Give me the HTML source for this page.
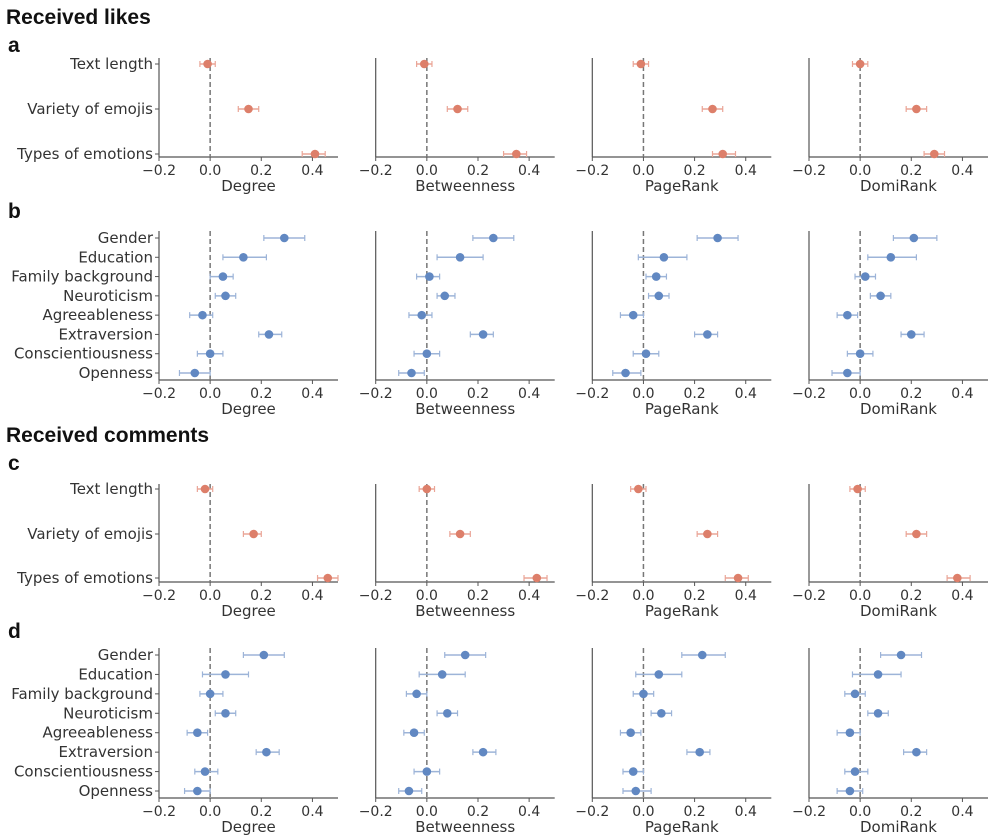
<!DOCTYPE html>
<html><head><meta charset="utf-8"><style>
body{margin:0;background:#fff;}
svg{display:block;font-family:"DejaVu Sans","Liberation Sans",sans-serif;}
.t{font-family:"Liberation Sans",sans-serif;}
</style></head><body>
<svg id="s" width="1004" height="836" xmlns="http://www.w3.org/2000/svg">
<text class="t" x="6" y="24" font-size="21" font-weight="bold" fill="#111">Received likes</text>
<text class="t" x="8" y="52" font-size="21" font-weight="bold" fill="#111">a</text>
<text class="t" x="8" y="218" font-size="21" font-weight="bold" fill="#111">b</text>
<text class="t" x="6" y="442" font-size="21" font-weight="bold" fill="#111">Received comments</text>
<text class="t" x="8" y="470" font-size="21" font-weight="bold" fill="#111">c</text>
<text class="t" x="8" y="638" font-size="21" font-weight="bold" fill="#111">d</text>
</svg>
<script>
const S=document.getElementById('s');
let h='';
const spines=[159,375.7,592.3,809], W=179, sc=W/0.7;
const names=['Degree','Betweenness','PageRank','DomiRank'];
const red='#dd7f6a', redL='#eaa597', blue='#6188c2', blueL='#9db4d8';
const emo=['Text length','Variety of emojis','Types of emotions'];
const per=['Gender','Education','Family background','Neuroticism','Agreeableness','Extraversion','Conscientiousness','Openness'];
const panels=[
 {labels:emo,rows:[64,109,154],top:58,bot:157,col:'r',data:[
  [[-.01,-.04,.02],[.15,.11,.19],[.41,.36,.45]],
  [[-.01,-.04,.02],[.12,.08,.16],[.35,.30,.39]],
  [[-.01,-.04,.02],[.27,.23,.31],[.31,.27,.36]],
  [[0,-.03,.03],[.22,.18,.26],[.29,.25,.33]]]},
 {labels:per,rows:null,r0:238,r1:373,top:231,bot:380,col:'b',data:[
  [[.29,.21,.37],[.13,.05,.22],[.05,0,.09],[.06,.02,.10],[-.03,-.08,.01],[.23,.19,.28],[0,-.05,.05],[-.06,-.12,0]],
  [[.26,.18,.34],[.13,.04,.22],[.01,-.04,.05],[.07,.04,.11],[-.02,-.07,.02],[.22,.17,.26],[0,-.05,.05],[-.06,-.11,-.01]],
  [[.29,.21,.37],[.08,-.02,.17],[.05,.01,.09],[.06,.02,.10],[-.04,-.09,0],[.25,.20,.29],[.01,-.04,.06],[-.07,-.12,-.01]],
  [[.21,.13,.30],[.12,.03,.22],[.02,-.02,.06],[.08,.04,.12],[-.05,-.09,-.01],[.20,.16,.25],[0,-.05,.05],[-.05,-.11,0]]]},
 {labels:emo,rows:[489,534,578],top:484,bot:582,col:'r',data:[
  [[-.02,-.05,.01],[.17,.13,.20],[.46,.42,.50]],
  [[0,-.03,.03],[.13,.09,.17],[.43,.38,.47]],
  [[-.02,-.05,.01],[.25,.21,.29],[.37,.32,.41]],
  [[-.01,-.04,.02],[.22,.18,.26],[.38,.34,.43]]]},
 {labels:per,rows:null,r0:655,r1:791,top:648,bot:798,col:'b',data:[
  [[.21,.13,.29],[.06,-.03,.15],[0,-.04,.05],[.06,.02,.10],[-.05,-.09,-.01],[.22,.18,.27],[-.02,-.06,.03],[-.05,-.10,0]],
  [[.15,.07,.23],[.06,-.03,.15],[-.04,-.08,0],[.08,.04,.12],[-.05,-.09,-.01],[.22,.18,.27],[0,-.05,.05],[-.07,-.11,-.02]],
  [[.23,.15,.32],[.06,-.03,.15],[0,-.04,.04],[.07,.03,.11],[-.05,-.09,-.01],[.22,.17,.26],[-.04,-.08,0],[-.03,-.08,.03]],
  [[.16,.08,.24],[.07,-.03,.16],[-.02,-.06,.02],[.07,.03,.11],[-.04,-.09,0],[.22,.17,.26],[-.02,-.06,.03],[-.04,-.09,.01]]]}
];
panels.forEach(p=>{
 let rows=p.rows; if(!rows){rows=[];for(let i=0;i<8;i++)rows.push(p.r0+(p.r1-p.r0)*i/7);}
 const c=p.col=='r'?red:blue, cl=p.col=='r'?redL:blueL;
 spines.forEach((sx,ci)=>{
  const X=v=>sx+(v+0.2)*sc;
  h+=`<line x1="${sx}" y1="${p.top}" x2="${sx}" y2="${p.bot}" stroke="#555" stroke-width="1.2"/>`;
  h+=`<line x1="${sx}" y1="${p.bot}" x2="${sx+W}" y2="${p.bot}" stroke="#555" stroke-width="1.2"/>`;
  h+=`<line x1="${X(0)}" y1="${p.top}" x2="${X(0)}" y2="${p.bot}" stroke="#777" stroke-width="1.5" stroke-dasharray="5,3"/>`;
  [-.2,0,.2,.4].forEach(t=>{const x=X(t);
   h+=`<line x1="${x}" y1="${p.bot}" x2="${x}" y2="${p.bot+4}" stroke="#555"/>`;
   h+=`<text x="${x}" y="${p.bot+18}" font-size="14" fill="#333" text-anchor="middle">${t<0?'\u22120.2':t.toFixed(1)}</text>`;});
  h+=`<text x="${sx+W/2}" y="${p.bot+34}" font-size="15" fill="#333" text-anchor="middle">${names[ci]}</text>`;
  p.data[ci].forEach((d,i)=>{const y=rows[i];
   h+=`<line x1="${X(d[1])}" y1="${y}" x2="${X(d[2])}" y2="${y}" stroke="${cl}" stroke-width="1.5"/>`;
   h+=`<line x1="${X(d[1])}" y1="${y-3}" x2="${X(d[1])}" y2="${y+3}" stroke="${cl}" stroke-width="1.2"/>`;
   h+=`<line x1="${X(d[2])}" y1="${y-3}" x2="${X(d[2])}" y2="${y+3}" stroke="${cl}" stroke-width="1.2"/>`;
   h+=`<circle cx="${X(d[0])}" cy="${y}" r="4.3" fill="${c}"/>`;
   if(ci==0){h+=`<line x1="${sx-4}" y1="${y}" x2="${sx}" y2="${y}" stroke="#555"/>`;
    h+=`<text x="${sx-6}" y="${y+5}" font-size="15" fill="#333" text-anchor="end">${p.labels[i]}</text>`;}
  });
 });
});
S.insertAdjacentHTML('beforeend',h);
</script>
</body></html>
